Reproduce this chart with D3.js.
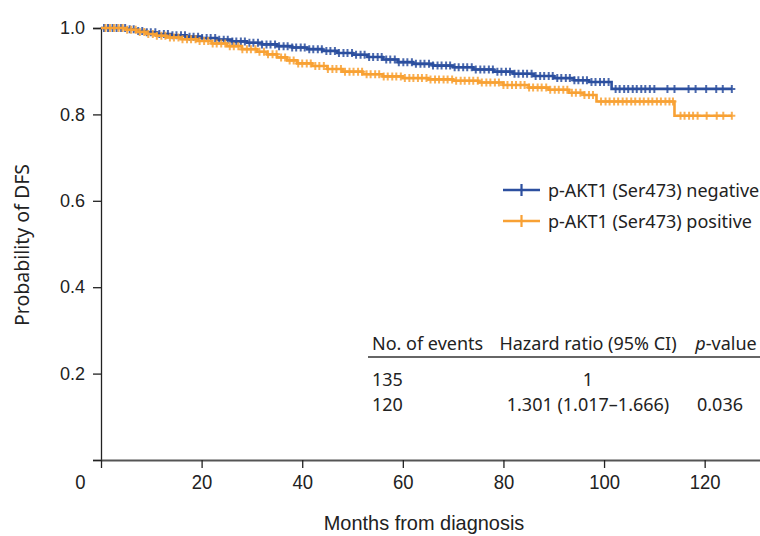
<!DOCTYPE html>
<html>
<head>
<meta charset="utf-8">
<script src="https://cdn.jsdelivr.net/npm/d3@7"></script>
<style>
  html, body { margin: 0; padding: 0; background: #fff; }
  svg { display: block; }
  .ytick text { font-family: "Liberation Sans", Arial, sans-serif; font-size: 18px; fill: #222; }
  .xtick text { font-family: "Liberation Sans", Arial, sans-serif; font-size: 21px; fill: #222; }
  .lbl { font-family: "Noto Sans", sans-serif; fill: #222; }
</style>
</head>
<body>
<div id="chart"></div>
<script>
// step points of the Kaplan-Meier curves: [month, survival]
const negSteps = [[0,1.0],[5,0.997],[7,0.993],[9,0.990],[11,0.986],[14,0.983],[17,0.980],[20,0.977],[23,0.973],[26,0.969],[29,0.966],[32,0.962],[35,0.958],[38,0.955],[41,0.951],[44,0.947],[47,0.942],[50,0.938],[53,0.933],[56,0.927],[59,0.921],[62,0.917],[66,0.913],[70,0.909],[74,0.904],[78,0.899],[82,0.894],[86,0.889],[90,0.884],[94,0.879],[97,0.875],[101.5,0.859],[125.5,0.859]];
const posSteps = [[0,1.0],[5,0.996],[7,0.991],[9,0.986],[11,0.982],[13,0.978],[16,0.974],[19,0.970],[22,0.964],[25,0.958],[28,0.951],[31,0.945],[33,0.939],[35,0.932],[37,0.925],[39,0.918],[42,0.912],[45,0.905],[48,0.899],[52,0.893],[56,0.888],[60,0.884],[65,0.881],[70,0.878],[75,0.874],[80,0.868],[85,0.862],[89,0.857],[93,0.850],[96,0.845],[98.5,0.830],[114,0.797],[125.5,0.797]];

// censoring times (months)
const negCensor = [0.6,1.4,2.3,3.1,4.0,4.8,5.7,6.5,7.4,8.2,9.1,9.9,10.8,11.6,12.5,13.3,14.2,15.0,15.9,16.7,17.6,18.4,19.3,20.1,21.0,21.8,22.7,23.5,24.4,25.2,26.1,26.9,27.8,28.6,29.5,30.3,31.2,32.0,32.9,33.7,34.6,35.4,36.3,37.1,38.0,38.8,39.7,40.5,41.4,42.2,43.1,43.9,44.8,45.6,46.5,47.3,48.2,49.0,49.9,50.7,51.6,52.4,53.3,54.1,55.0,55.8,56.7,57.5,58.4,59.2,60.1,60.9,61.8,62.6,63.5,64.3,65.2,66.0,66.9,67.7,68.6,69.4,70.3,71.1,72.0,72.8,73.7,74.5,75.4,76.2,77.1,77.9,78.8,79.6,80.5,81.3,82.2,83.0,83.9,84.7,85.6,86.4,87.3,88.1,89.0,89.8,90.7,91.5,92.4,93.2,94.1,94.9,95.8,96.6,97.5,98.3,99.2,100.0,100.9,102.3,103.1,104.0,104.8,105.7,106.5,107.4,108.2,109.1,110.0,112.6,114.0,116.8,118.2,120.3,122.3,123.6,125.4];
const posCensor = [0.9,1.8,2.6,3.5,4.3,5.2,6.0,6.9,7.7,8.6,9.4,10.3,11.1,12.0,12.8,13.7,14.5,15.4,16.2,17.1,17.9,18.8,19.6,20.5,21.3,22.2,23.0,23.9,24.7,25.6,26.4,27.3,28.1,29.0,29.8,30.7,31.5,32.4,33.2,34.1,34.9,35.8,36.6,37.5,38.3,39.2,40.0,40.9,41.7,42.6,43.4,44.3,45.1,46.0,46.8,47.7,48.5,49.4,50.2,51.1,51.9,52.8,53.6,54.5,55.3,56.2,57.0,57.9,58.7,59.6,60.4,61.3,62.1,63.0,63.8,64.7,65.5,66.4,67.2,68.1,68.9,69.8,70.6,71.5,72.3,73.2,74.0,74.9,75.7,76.6,77.4,78.3,79.1,80.0,80.8,81.7,82.5,83.4,84.2,85.1,85.9,86.8,87.6,88.5,89.3,90.2,91.0,91.9,92.7,93.6,94.4,95.3,96.1,97.0,97.8,99.4,100.3,101.1,102.0,102.8,103.7,104.5,105.4,106.2,107.1,107.9,108.8,109.6,110.5,111.3,112.2,113.0,113.7,115.2,116.0,116.9,117.7,118.6,120.4,122.4,123.7,125.4];

const groups = ["p-AKT1 (Ser473) negative", "p-AKT1 (Ser473) positive"];
const colors = ["#2c4f9f", "#f8a134"];

const xTicks = [0, 20, 40, 60, 80, 100, 120];
const yTicks = [0, 0.2, 0.4, 0.6, 0.8, 1.0];

const tableHead = ["No. of events", "Hazard ratio (95% CI)", "p-value"];
const tableRows = [["135", "1", ""], ["120", "1.301 (1.017\u20131.666)", "0.036"]];

const width = 760, height = 536;
const svg = d3.select("#chart").append("svg")
  .attr("width", width).attr("height", height);

const x = d3.scaleLinear().domain([0, 131]).range([101, 760]);
const y = d3.scaleLinear().domain([0, 1]).range([460, 28]);

// y axis
const yAxis = svg.append("g")
  .attr("class", "ytick")
  .attr("transform", `translate(${x(0)},0)`)
  .call(d3.axisLeft(y).tickValues(yTicks).tickSize(8).tickPadding(8)
    .tickFormat(d => d === 0 ? "" : d3.format(".1f")(d)));
yAxis.select(".domain").attr("stroke", "#222").attr("stroke-width", 1.3);
yAxis.selectAll(".tick line").attr("stroke", "#222").attr("stroke-width", 1.3);
yAxis.selectAll(".tick text").attr("font-size", null).attr("font-family", null);

// x axis (narrow tick labels)
const xAxis = svg.append("g")
  .attr("class", "xtick")
  .attr("transform", `translate(0,${y(0)})`)
  .call(d3.axisBottom(x).tickValues(xTicks).tickSize(8).tickPadding(6).tickSizeOuter(0));
xAxis.select(".domain").attr("stroke", "#555").attr("stroke-width", 2);
xAxis.selectAll(".tick line").attr("stroke", "#222").attr("stroke-width", 1.3);
xAxis.selectAll(".tick text").attr("font-size", null).attr("font-family", null)
  .attr("transform", "scale(0.88,1)")
  .attr("dx", d => d === 0 ? -24 : 0);

// axis titles
svg.append("text").attr("class", "lbl")
  .attr("transform", "translate(424,530) scale(0.95,1)")
  .attr("text-anchor", "middle")
  .style("font-family", '"Liberation Sans", Arial, sans-serif')
  .attr("font-size", 21).text("Months from diagnosis");
svg.append("text").attr("class", "lbl")
  .attr("transform", "translate(29,245) rotate(-90)")
  .attr("text-anchor", "middle").attr("font-size", 19.5)
  .text("Probability of DFS");

// curves
const line = d3.line().curve(d3.curveStepAfter)
  .x(d => x(d[0])).y(d => y(d[1]));
const survAt = (steps, t) => {
  const i = d3.bisector(d => d[0]).right(steps, t) - 1;
  return steps[Math.max(0, i)][1];
};
const plus = "M-3.5,0H3.5M0,-4V4";

[[negSteps, negCensor], [posSteps, posCensor]].forEach(([steps, cens], gi) => {
  const g = svg.append("g");
  g.append("path").datum(steps)
    .attr("d", line).attr("fill", "none")
    .attr("stroke", colors[gi]).attr("stroke-width", 2.6);
  g.selectAll("path.cens").data(cens).join("path")
    .attr("class", "cens")
    .attr("transform", t => `translate(${x(t)},${y(survAt(steps, t))})`)
    .attr("d", plus).attr("stroke", colors[gi])
    .attr("stroke-width", 2).attr("stroke-opacity", 0.85);
});

// legend
const legend = svg.append("g").attr("transform", "translate(503,190)");
groups.forEach((name, i) => {
  const row = legend.append("g").attr("transform", `translate(0,${i * 31})`);
  row.append("line").attr("x1", 0).attr("x2", 37).attr("stroke", colors[i]).attr("stroke-width", 2.6);
  row.append("path").attr("transform", "translate(18.5,0)").attr("d", "M0,-6V6")
    .attr("stroke", colors[i]).attr("stroke-width", 2.2);
  row.append("text").attr("class", "lbl").attr("x", 45).attr("y", 6.5)
    .attr("font-size", 18).text(name);
});

// table of events / hazard ratio
const tbl = svg.append("g").attr("class", "lbl").attr("font-size", 18);
const colX = [372, 588, 726];
tbl.append("text").attr("x", colX[0]).attr("y", 350).text(tableHead[0]);
tbl.append("text").attr("x", colX[1]).attr("y", 350).attr("text-anchor", "middle").text(tableHead[1]);
const pv = tbl.append("text").attr("x", colX[2]).attr("y", 350).attr("text-anchor", "middle");
pv.append("tspan").attr("font-style", "italic").text("p");
pv.append("tspan").text(tableHead[2].slice(1));
tbl.append("line").attr("x1", 368).attr("x2", 760).attr("y1", 357).attr("y2", 357)
  .attr("stroke", "#333").attr("stroke-width", 1.5);
tableRows.forEach((r, i) => {
  const yy = 386 + i * 25;
  tbl.append("text").attr("x", colX[0]).attr("y", yy).text(r[0]);
  tbl.append("text").attr("x", colX[1]).attr("y", yy).attr("text-anchor", "middle").text(r[1]);
  tbl.append("text").attr("x", 720).attr("y", yy).attr("text-anchor", "middle").text(r[2]);
});
</script>
</body>
</html>
